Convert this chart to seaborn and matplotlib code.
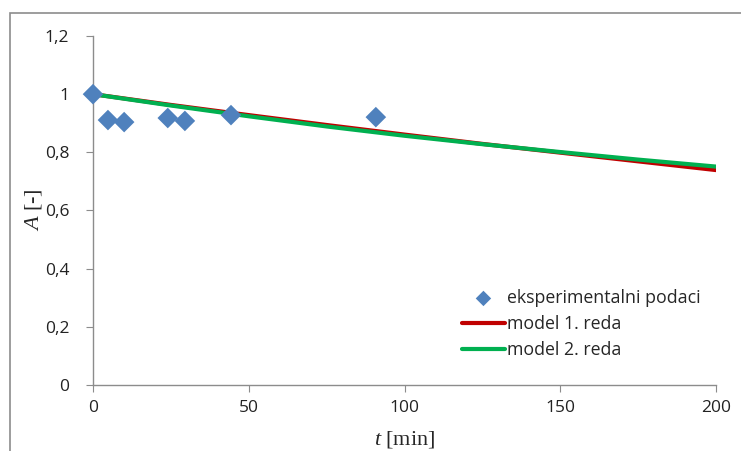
import matplotlib
matplotlib.use("Agg")
import matplotlib.pyplot as plt
import seaborn as sns
import pandas as pd
from matplotlib.patches import Rectangle
from matplotlib.ticker import FuncFormatter

# --- data ---
t_exp = [0, 4.8, 10, 24, 29.5, 44.3, 90.8]
a_exp = [1.0, 0.911, 0.904, 0.918, 0.908, 0.928, 0.921]

t_model = [0, 25, 50, 75, 100, 125, 150, 175, 200]
a_model1 = [1.0, 0.963, 0.928, 0.894, 0.861, 0.829, 0.799, 0.769, 0.739]
a_model2 = [1.0, 0.961, 0.924, 0.889, 0.857, 0.828, 0.801, 0.775, 0.751]

x_ticks = [0, 50, 100, 150, 200]
y_ticks = [0, 0.2, 0.4, 0.6, 0.8, 1.0, 1.2]

exp_df = pd.DataFrame({"t": t_exp, "A": a_exp})
m1_df = pd.DataFrame({"t": t_model, "A": a_model1})
m2_df = pd.DataFrame({"t": t_model, "A": a_model2})

sns.set_style("white")
plt.rcParams['font.family'] = ['Open Sans', 'DejaVu Sans']
plt.rcParams['mathtext.fontset'] = 'custom'
plt.rcParams['mathtext.it'] = 'Liberation Serif:italic'
plt.rcParams['mathtext.rm'] = 'Liberation Serif'

fig = plt.figure(figsize=(7.41, 4.51), dpi=100)
ax = fig.add_axes([93 / 741, 1 - 385 / 451, (716 - 93) / 741, (385 - 36) / 451])

# outer chart border (Excel chart area)
fig.patches.append(Rectangle((10 / 741, -0.05), 1.0, 1 - 13 / 451 + 0.05,
                             transform=fig.transFigure, fill=False,
                             edgecolor='#8c8c8c', linewidth=1.2))

sns.lineplot(data=m1_df, x="t", y="A", ax=ax, color='#C00000', linewidth=3,
             label='model 1. reda', zorder=2)
sns.lineplot(data=m2_df, x="t", y="A", ax=ax, color='#00B050', linewidth=3,
             label='model 2. reda', zorder=3)
sns.scatterplot(data=exp_df, x="t", y="A", ax=ax, marker='D', s=110,
                color='#4F81BD', edgecolor='none',
                label='eksperimentalni podaci', zorder=4, clip_on=False)

ax.set_xlim(0, 200)
ax.set_ylim(0, 1.2)
ax.set_xticks(x_ticks)
ax.set_yticks(y_ticks)
ax.yaxis.set_major_formatter(FuncFormatter(lambda v, p: f"{v:g}".replace('.', ',')))

for s in ['top', 'right']:
    ax.spines[s].set_visible(False)
for s in ['left', 'bottom']:
    ax.spines[s].set_color('#8c8c8c')
    ax.spines[s].set_linewidth(1)
ax.tick_params(axis='both', direction='out', length=5, color='#8c8c8c',
               labelsize=12.5, labelcolor='#222222', left=True, bottom=True)
ax.tick_params(axis='y', pad=12)
ax.tick_params(axis='x', pad=6)

ax.set_xlabel('')
ax.set_ylabel('')
fig.text((93 + 716) / 2 / 741, 1 - 439 / 451, r'$t\ \mathrm{[min]}$', ha='center', va='center',
         fontsize=16)
fig.text(33 / 741, 1 - 210 / 451, r'$A\ \mathrm{[\text{-}]}$', ha='center', va='center',
         rotation=90, fontsize=16)

handles, labels = ax.get_legend_handles_labels()
order = [2, 0, 1]
ax.legend([handles[i] for i in order], [labels[i] for i in order],
          loc='upper left', bbox_to_anchor=((455 - 93) / 623, (385 - 282) / 349),
          frameon=False, fontsize=12.8, handlelength=2.4, handletextpad=0.15,
          labelspacing=0.45, borderaxespad=0, markerscale=0.75)

fig.savefig('out.png', dpi=100)
